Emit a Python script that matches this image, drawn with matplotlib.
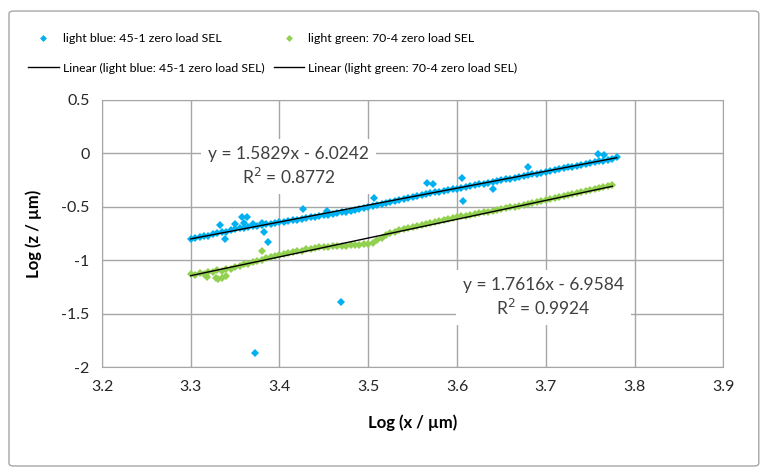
import matplotlib
matplotlib.use("Agg")
import matplotlib.pyplot as plt
from matplotlib.lines import Line2D
from matplotlib.patches import FancyBboxPatch

plt.rcParams['font.family'] = ['Lato', 'DejaVu Sans']

# light blue: 45-1 zero load SEL (main band)
blue_x = [3.300, 3.305, 3.310, 3.315, 3.320, 3.325, 3.330, 3.335, 3.340, 3.345,
          3.350, 3.355, 3.360, 3.365, 3.370, 3.375, 3.380, 3.385, 3.390, 3.395,
          3.400, 3.405, 3.410, 3.415, 3.420, 3.425, 3.430, 3.435, 3.440, 3.445,
          3.450, 3.455, 3.460, 3.465, 3.470, 3.475, 3.480, 3.485, 3.490, 3.495,
          3.500, 3.505, 3.510, 3.515, 3.520, 3.525, 3.530, 3.535, 3.540, 3.545,
          3.550, 3.555, 3.560, 3.565, 3.570, 3.575, 3.580, 3.585, 3.590, 3.595,
          3.600, 3.605, 3.610, 3.615, 3.620, 3.625, 3.630, 3.635, 3.640, 3.645,
          3.650, 3.655, 3.660, 3.665, 3.670, 3.675, 3.680, 3.685, 3.690, 3.695,
          3.700, 3.705, 3.710, 3.715, 3.720, 3.725, 3.730, 3.735, 3.740, 3.745,
          3.750, 3.755, 3.760, 3.765, 3.770, 3.775, 3.780]
blue_y = [-0.805, -0.790, -0.786, -0.772, -0.770, -0.752, -0.748, -0.739, -0.735, -0.718,
          -0.712, -0.700, -0.697, -0.690, -0.684, -0.676, -0.668, -0.664, -0.657, -0.651,
          -0.646, -0.640, -0.633, -0.628, -0.621, -0.612, -0.607, -0.600, -0.594, -0.586,
          -0.580, -0.574, -0.566, -0.560, -0.551, -0.545, -0.537, -0.530, -0.520, -0.513,
          -0.503, -0.495, -0.485, -0.476, -0.466, -0.457, -0.447, -0.437, -0.428, -0.417,
          -0.408, -0.399, -0.389, -0.381, -0.374, -0.366, -0.359, -0.351, -0.344, -0.337,
          -0.330, -0.322, -0.316, -0.307, -0.300, -0.291, -0.284, -0.276, -0.268, -0.259,
          -0.252, -0.244, -0.236, -0.228, -0.221, -0.212, -0.205, -0.196, -0.189, -0.181,
          -0.173, -0.164, -0.157, -0.149, -0.141, -0.132, -0.124, -0.116, -0.109, -0.100,
          -0.093, -0.085, -0.076, -0.068, -0.060, -0.052, -0.036]
# scattered blue points off the band
blue_out_x = [3.333, 3.339, 3.350, 3.358, 3.363, 3.360, 3.370, 3.380, 3.382, 3.387,
              3.427, 3.454, 3.507, 3.566, 3.573, 3.606, 3.607, 3.641, 3.680, 3.759,
              3.766, 3.372, 3.469]
blue_out_y = [-0.666, -0.804, -0.664, -0.595, -0.597, -0.648, -0.657, -0.648, -0.735, -0.829,
              -0.517, -0.539, -0.414, -0.277, -0.288, -0.228, -0.446, -0.335, -0.128, -0.005,
              -0.020, -1.866, -1.390]

# light green: 70-4 zero load SEL
green_x = [3.300, 3.305, 3.310, 3.315, 3.320, 3.325, 3.330, 3.335, 3.340, 3.345,
           3.350, 3.355, 3.360, 3.365, 3.370, 3.375, 3.380, 3.385, 3.390, 3.395,
           3.400, 3.405, 3.410, 3.415, 3.420, 3.425, 3.430, 3.435, 3.440, 3.445,
           3.450, 3.455, 3.460, 3.465, 3.470, 3.475, 3.480, 3.485, 3.490, 3.495,
           3.500, 3.505, 3.510, 3.515, 3.520, 3.525, 3.530, 3.535, 3.540, 3.545,
           3.550, 3.555, 3.560, 3.565, 3.570, 3.575, 3.580, 3.585, 3.590, 3.595,
           3.600, 3.605, 3.610, 3.615, 3.620, 3.625, 3.630, 3.635, 3.640, 3.645,
           3.650, 3.655, 3.660, 3.665, 3.670, 3.675, 3.680, 3.685, 3.690, 3.695,
           3.700, 3.705, 3.710, 3.715, 3.720, 3.725, 3.730, 3.735, 3.740, 3.745,
           3.750, 3.755, 3.760, 3.765, 3.770, 3.775]
green_y = [-1.130, -1.138, -1.122, -1.125, -1.108, -1.112, -1.095, -1.100, -1.082, -1.078,
           -1.062, -1.055, -1.040, -1.036, -1.020, -1.010, -0.994, -0.982, -0.972, -0.962,
           -0.952, -0.942, -0.933, -0.926, -0.918, -0.910, -0.900, -0.893, -0.886, -0.880,
           -0.876, -0.872, -0.870, -0.868, -0.866, -0.864, -0.862, -0.860, -0.857, -0.853,
           -0.847, -0.835, -0.812, -0.790, -0.768, -0.748, -0.732, -0.718, -0.706, -0.695,
           -0.686, -0.677, -0.668, -0.659, -0.650, -0.640, -0.630, -0.621, -0.612, -0.604,
           -0.596, -0.589, -0.582, -0.575, -0.568, -0.561, -0.553, -0.546, -0.539, -0.531,
           -0.523, -0.515, -0.506, -0.498, -0.489, -0.481, -0.472, -0.464, -0.455, -0.447,
           -0.438, -0.430, -0.421, -0.412, -0.403, -0.394, -0.384, -0.375, -0.366, -0.357,
           -0.347, -0.338, -0.328, -0.319, -0.309, -0.299]
green_out_x = [3.318, 3.329, 3.331, 3.335, 3.340, 3.380]
green_out_y = [-1.160, -1.171, -1.178, -1.165, -1.150, -0.913]

# trendline coefficients as printed on the chart
blue_fit = (1.5829, -6.0242, 0.8772)
green_fit = (1.7616, -6.9584, 0.9924)

BLUE = '#00B0F0'
GREEN = '#92D050'

fig = plt.figure(figsize=(7.69, 4.71), dpi=100)
fig.patches.append(FancyBboxPatch((0.0117, 0.0106), 0.975, 0.966,
                                  boxstyle="round,pad=0,rounding_size=0.006",
                                  transform=fig.transFigure, facecolor='none',
                                  edgecolor='#A6A6A6', linewidth=1.0))
ax = fig.add_axes([0.1326, 0.2208, 0.808, 0.567])

ms = 4.3
ax.plot(blue_x, blue_y, 'D', color=BLUE, ms=ms, mew=0, zorder=3)
ax.plot(blue_out_x, blue_out_y, 'D', color=BLUE, ms=ms, mew=0, zorder=3)
ax.plot(green_x, green_y, 'D', color=GREEN, ms=ms, mew=0, zorder=3)
ax.plot(green_out_x, green_out_y, 'D', color=GREEN, ms=ms, mew=0, zorder=3)

for xs, fit in ((blue_x, blue_fit), (green_x, green_fit)):
    x0, x1 = min(xs), max(xs)
    ax.plot([x0, x1], [fit[0] * x0 + fit[1], fit[0] * x1 + fit[1]],
            color='black', lw=1.0, zorder=4)

ax.set_xlim(3.2, 3.9)
ax.set_ylim(-2, 0.5)
ax.set_xticks([3.2, 3.3, 3.4, 3.5, 3.6, 3.7, 3.8, 3.9])
ax.set_yticks([-2, -1.5, -1, -0.5, 0, 0.5])
ax.set_yticklabels(['-2', '-1.5', '-1', '-0.5', '0', '0.5'])
ax.grid(True, color='#A6A6A6', lw=1.0, zorder=0)
ax.set_axisbelow(True)
for s in ax.spines.values():
    s.set_color('#A6A6A6')
ax.tick_params(length=0, labelsize=11.5, pad=9, colors='#262626')
ax.set_xlabel('Log (x / µm)', fontsize=12, fontweight='bold', labelpad=15)
ax.set_ylabel('Log (z / µm)', fontsize=12, fontweight='bold', labelpad=14)


def eq_text(fit):
    sign = '-' if fit[1] < 0 else '+'
    return f"y = {fit[0]:.4f}x {sign} {abs(fit[1]):.4f}\nR$^2$ = {fit[2]:.4f}"


box = dict(facecolor='white', edgecolor='none', pad=5)
ax.text(3.410, -0.125, eq_text(blue_fit), ha='center', va='center', fontsize=12.5,
        color='#404040', bbox=box, zorder=5, linespacing=1.3)
ax.text(3.697, -1.348, eq_text(green_fit), ha='center', va='center', fontsize=12.5,
        color='#404040', bbox=box, zorder=5, linespacing=1.3)

handles = [Line2D([], [], ls='none', marker='D', color=BLUE, ms=3.5, mew=0),
           Line2D([], [], color='black', lw=1.0),
           Line2D([], [], ls='none', marker='D', color=GREEN, ms=3.5, mew=0),
           Line2D([], [], color='black', lw=1.0)]
labels = ['light blue: 45-1 zero load SEL',
          'Linear (light blue: 45-1 zero load SEL)',
          'light green: 70-4 zero load SEL',
          'Linear (light green: 70-4 zero load SEL)']
fig.legend(handles, labels, ncol=2, loc='upper left', bbox_to_anchor=(0.030, 0.940),
           frameon=False, fontsize=8.9, handlelength=2.5, handletextpad=0.3,
           columnspacing=0.75, labelspacing=1.5, borderaxespad=0)

fig.savefig('out.png', dpi=100)
